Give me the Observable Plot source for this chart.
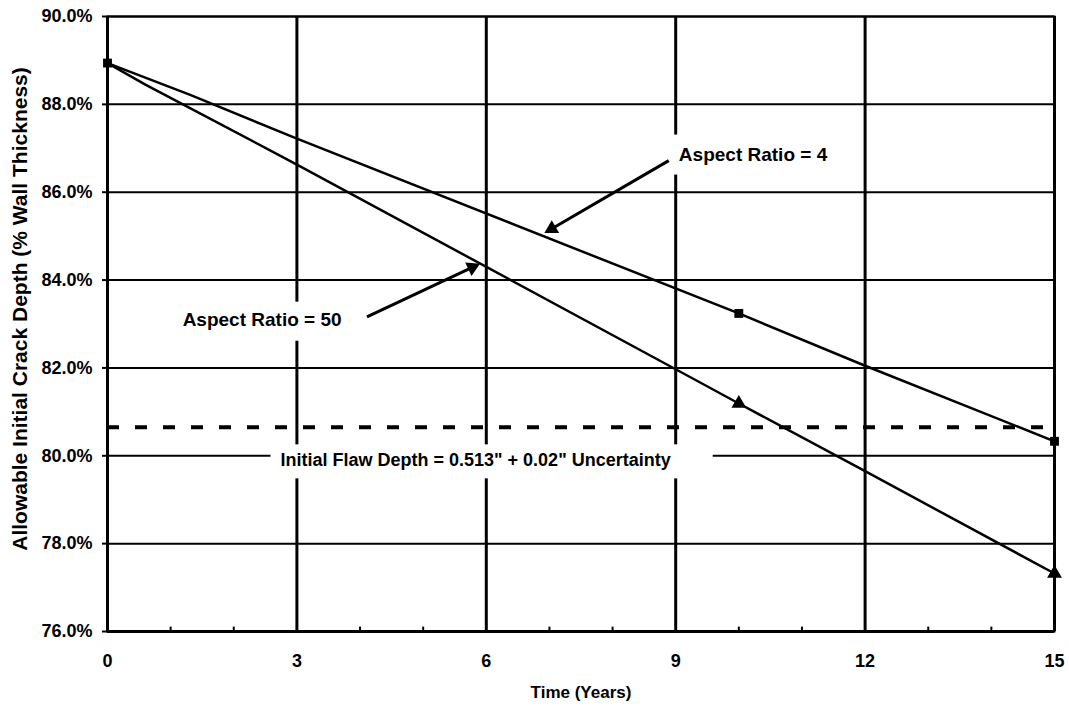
<!DOCTYPE html>
<html><head><meta charset="utf-8">
<script src="https://cdn.jsdelivr.net/npm/d3@7"></script>
<script src="https://cdn.jsdelivr.net/npm/@observablehq/plot@0.6"></script>
<style>
body{margin:0;background:#fff}
</style>
</head><body><div id="chart"></div><script>
// ---- data ----
const years4 = [0, 1.3, 3, 10, 12, 15];
const depth4 = [88.94, 88.22, 87.22, 83.24, 82.05, 80.33];
const years50 = [0, 0.6, 3, 9, 10, 12, 15];
const depth50 = [88.94, 88.45, 86.63, 81.97, 81.19, 79.65, 77.32];
const markerYears4 = [0, 10, 15];
const markerYears50 = [10, 15];
const flawDepth = [80.65];
const xTicks = [0, 3, 6, 9, 12, 15];
const xMinor = [1, 2, 4, 5, 7, 8, 10, 11, 13, 14];
const yTicks = [76, 78, 80, 82, 84, 86, 88, 90];
const yTitle = "Allowable Initial Crack Depth (% Wall Thickness)";
const xTitle = "Time (Years)";
const noteTexts = ["Aspect Ratio = 4", "Aspect Ratio = 50", "Initial Flaw Depth = 0.513\" + 0.02\" Uncertainty"];
const noteX = [9.05, 1.19, 2.74];
const noteY = [86.86, 83.10, 79.89];
const noteSize = [19, 19, 18];
const arrowFromX = [8.89, 4.11];
const arrowFromY = [86.72, 83.16];
const arrowToX = [6.92, 5.90];
const arrowToY = [85.07, 84.37];
// padding of the white boxes behind the notes: [left, right, top, bottom]
const notePad = [[6, 6, 9, 10], [4, 3, 7, 11], [10, 42, 6, 8]];

// ---- layout ----
const W = 1069, H = 707, mL = 107, mR = 15, mT = 16, mB = 76;
const xs = Plot.scale({x: {domain: [0, 15], range: [mL, W - mR]}});
const ys = Plot.scale({y: {domain: [76, 90], range: [H - mB, mT]}});

const rows4 = d3.zip(years4, depth4).map(([x, y]) => ({x, y}));
const rows50 = d3.zip(years50, depth50).map(([x, y]) => ({x, y}));
const marks4 = rows4.filter(d => markerYears4.includes(d.x));
const marks50 = rows50.filter(d => markerYears50.includes(d.x));
const notes = noteTexts.map((t, i) => ({t, x: noteX[i], y: noteY[i], s: noteSize[i]}));
const headR = 5.5;
const headTip = 2 * Math.sqrt(headR * headR * Math.PI / (Math.sqrt(3) * 3));
const arrows = arrowFromX.map((x, i) => {
  const px1 = xs.apply(x), py1 = ys.apply(arrowFromY[i]);
  const px2 = xs.apply(arrowToX[i]), py2 = ys.apply(arrowToY[i]);
  const dx = px2 - px1, dy = py2 - py1, L = Math.hypot(dx, dy);
  return {
    x1: x, y1: arrowFromY[i], x2: arrowToX[i], y2: arrowToY[i],
    hx: xs.invert(px2 - dx / L * headTip), hy: ys.invert(py2 - dy / L * headTip),
    rot: Math.atan2(dx, -dy) * 180 / Math.PI
  };
});

const chart = Plot.plot({
  width: W, height: H,
  marginLeft: mL, marginRight: mR, marginTop: mT, marginBottom: mB,
  style: {fontFamily: "'Liberation Sans', Arial, sans-serif", fontSize: "18px", fontWeight: "bold", color: "#000", background: "#fff", overflow: "visible"},
  x: {domain: [0, 15]},
  y: {domain: [76, 90]},
  marks: [
    Plot.ruleY(yTicks, {stroke: "#000", strokeWidth: 2}),
    Plot.ruleX(xTicks, {stroke: "#000", strokeWidth: 3}),
    Plot.ruleX(xMinor, {y1: 76, y2: 76.1, stroke: "#000", strokeWidth: 2}),
    Plot.axisY({ticks: yTicks, tickSize: 5, tickPadding: 10, strokeWidth: 2, tickFormat: d => d.toFixed(1) + "%", label: null, fontSize: 18}),
    Plot.axisX({ticks: xTicks, tickSize: 0, tickPadding: 23, tickFormat: d => String(d), label: null, fontSize: 18}),
    Plot.text([yTitle], {frameAnchor: "left", rotate: -90, dx: -87, dy: -15, textAnchor: "middle", lineAnchor: "middle", fontSize: 21, fontWeight: "bold", fill: "#000"}),
    Plot.text([xTitle], {frameAnchor: "bottom", dy: 61, textAnchor: "middle", lineAnchor: "middle", fontSize: 17, fontWeight: "bold", fill: "#000"}),
    Plot.text(notes, {x: "x", y: "y", text: "t", fontSize: "s", textAnchor: "start", fontWeight: "bold", fill: "#000"}),
    Plot.ruleY(flawDepth, {stroke: "#000", strokeWidth: 4, strokeDasharray: "12,16"}),
    Plot.link(arrows, {x1: "x1", y1: "y1", x2: "hx", y2: "hy", stroke: "#000", strokeWidth: 3}),
    Plot.dot(arrows, {x: "hx", y: "hy", symbol: "triangle", r: headR, rotate: "rot", fill: "#000"}),
    Plot.line(rows4, {x: "x", y: "y", stroke: "#000", strokeWidth: 2.5}),
    Plot.line(rows50, {x: "x", y: "y", stroke: "#000", strokeWidth: 2.5}),
    Plot.dot(marks4, {x: "x", y: "y", symbol: "square", r: 5, fill: "#000"}),
    Plot.dot(marks50, {x: "x", y: "y", symbol: "triangle", r: 5.5, fill: "#000"}),
    Plot.ruleX([0], {stroke: "#000", strokeWidth: 3}),
    Plot.ruleY([76], {stroke: "#000", strokeWidth: 3}),
    Plot.frame({stroke: "#000", strokeWidth: 2})
  ]
});
document.getElementById("chart").appendChild(chart);

// white boxes behind the notes (sized from the rendered text)
d3.select(chart).selectAll("text").each(function() {
  const i = noteTexts.indexOf(this.textContent);
  if (i < 0) return;
  const b = this.getBBox();
  const p = notePad[i];
  const r = document.createElementNS("http://www.w3.org/2000/svg", "rect");
  const tr = this.getAttribute("transform");
  if (tr) r.setAttribute("transform", tr);
  r.setAttribute("x", b.x - p[0]);
  r.setAttribute("y", b.y - p[2]);
  r.setAttribute("width", b.width + p[0] + p[1]);
  r.setAttribute("height", b.height + p[2] + p[3]);
  r.setAttribute("fill", "#fff");
  this.parentNode.insertBefore(r, this);
});
</script></body></html>
